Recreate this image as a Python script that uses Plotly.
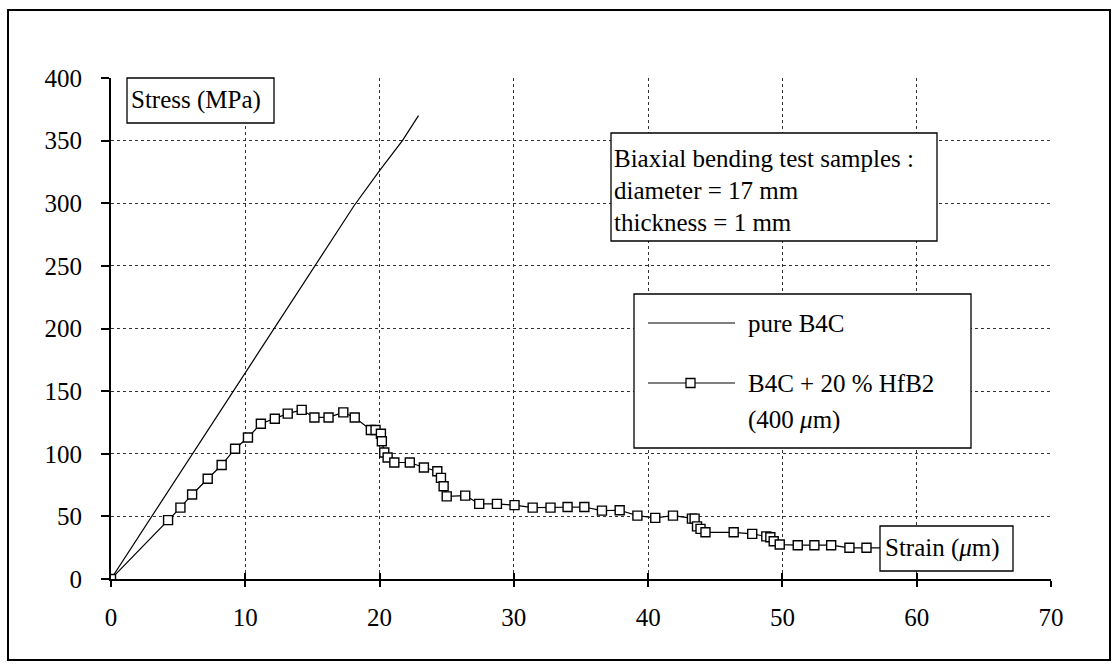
import plotly.graph_objects as go

# ---- data ----
pure_x = [0, 9.1, 18.1, 20.0, 21.7, 22.9]
pure_y = [0, 150, 298, 326, 350, 370]

comp_x = [0, 4.25, 5.17, 6.04, 7.2, 8.24, 9.24, 10.2, 11.16, 12.2, 13.16, 14.2, 15.15, 16.2,
          17.3, 18.15, 19.35, 19.7, 20.1, 20.17, 20.35, 20.6, 21.1, 22.25, 23.3, 24.3, 24.57,
          24.77, 25.0, 26.38, 27.42, 28.74, 30.05, 31.4, 32.73, 34.0, 35.25, 36.56, 37.88,
          39.2, 40.53, 41.85, 43.26, 43.46, 43.64, 43.9, 44.27, 46.37, 47.75, 48.8, 49.1,
          49.35, 49.8, 51.14, 52.38, 53.63, 54.99, 56.26, 57.5]
comp_y = [0, 47, 57, 67.5, 80, 91, 104, 113, 124, 128, 132, 135, 129, 129,
          133, 129, 119, 119, 116, 110, 101, 97, 93, 93, 89, 86, 80.7,
          74, 66, 66.6, 60, 60, 59, 57, 57, 57.5, 57.5, 54.6, 54.9,
          50.6, 48.8, 50.6, 48.2, 48.2, 42, 40, 37.3, 37.3, 36, 34, 33.3,
          30.1, 27.5, 27, 27, 27, 24.9, 24.9, 24.9]
comp_marker = [True] * (len(comp_x) - 1) + [False]

x_ticks = [0, 10, 20, 30, 40, 50, 60, 70]
y_ticks = [0, 50, 100, 150, 200, 250, 300, 350, 400]

FONT = "'Times New Roman', 'Liberation Serif', serif"
FS = 25
W, H = 1118, 664
L, R, T, B = 111, 67, 78, 85
PW, PH = W - L - R, H - T - B


def px(x):
    return (x - L) / PW


def py(y):
    return (H - B - y) / PH


fig = go.Figure()
fig.add_trace(go.Scatter(x=pure_x, y=pure_y, mode="lines",
                         line=dict(color="black", width=1.2), showlegend=False))
fig.add_trace(go.Scatter(x=comp_x, y=comp_y, mode="lines",
                         line=dict(color="black", width=1.2), showlegend=False))
mx = [x for x, m in zip(comp_x, comp_marker) if m]
my = [y for y, m in zip(comp_y, comp_marker) if m]
fig.add_trace(go.Scatter(x=mx, y=my, mode="markers",
                         marker=dict(symbol="square", size=9, color="white",
                                     line=dict(color="black", width=1.4)),
                         showlegend=False))
# invisible trace for overlay axis with inside ticks
fig.add_trace(go.Scatter(x=[0, 70], y=[0, 0], xaxis="x2", mode="lines",
                         line=dict(width=0), hoverinfo="skip", showlegend=False))

grid = dict(showgrid=True, gridcolor="#333", gridwidth=1, griddash="dot")
fig.update_layout(
    width=W, height=H,
    margin=dict(l=L, r=R, t=T, b=B),
    paper_bgcolor="white", plot_bgcolor="white",
    font=dict(family=FONT, size=FS, color="black"),
    xaxis=dict(range=[0, 70], tickvals=x_ticks, ticks="outside", ticklen=6,
               tickwidth=1.5, tickcolor="black", showline=True, linecolor="black",
               linewidth=2, zeroline=False, ticklabelstandoff=9,
               tickfont=dict(family=FONT, size=FS), **grid),
    xaxis2=dict(range=[0, 70], tickvals=x_ticks, ticks="inside", ticklen=6,
                tickwidth=1.5, tickcolor="black", overlaying="x", side="bottom",
                showticklabels=False, showgrid=False, showline=False, zeroline=False),
    yaxis=dict(range=[0, 400], tickvals=y_ticks, ticks="outside", ticklen=8,
               tickwidth=1.5, tickcolor="black", showline=True, linecolor="black",
               linewidth=2, zeroline=False, ticklabelstandoff=14,
               tickfont=dict(family=FONT, size=FS), **grid),
)

shapes = []
annots = []


def box(x0, y0, x1, y1):
    shapes.append(dict(type="rect", xref="paper", yref="paper",
                       x0=px(x0), x1=px(x1), y0=py(y1), y1=py(y0),
                       fillcolor="white", line=dict(color="black", width=1.3),
                       layer="above"))


def text(s, x, y):
    annots.append(dict(text=s, xref="paper", yref="paper", x=px(x), y=py(y),
                       xanchor="left", yanchor="middle", showarrow=False,
                       font=dict(family=FONT, size=FS, color="black")))


# outer frame
shapes.append(dict(type="rect", xref="paper", yref="paper",
                   x0=px(8), x1=px(1110), y0=py(660), y1=py(10),
                   line=dict(color="black", width=2), fillcolor="rgba(0,0,0,0)",
                   layer="above"))

box(127, 78, 274, 123)
text("Stress (MPa)", 129, 100)

box(611, 133, 937, 241)
text("Biaxial bending test samples :", 612, 158)
text("diameter = 17 mm", 612, 190)
text("thickness = 1 mm", 612, 222)

box(634, 294, 971, 448)
shapes.append(dict(type="line", xref="paper", yref="paper", x0=px(648), x1=px(735),
                   y0=py(323), y1=py(323), line=dict(color="black", width=1.2),
                   layer="above"))
text("pure B4C", 746, 323)
shapes.append(dict(type="line", xref="paper", yref="paper", x0=px(648), x1=px(735),
                   y0=py(383), y1=py(383), line=dict(color="black", width=1.2),
                   layer="above"))
shapes.append(dict(type="rect", xref="paper", yref="paper", x0=px(686), x1=px(695),
                   y0=py(387.5), y1=py(378.5), fillcolor="white",
                   line=dict(color="black", width=1.3), layer="above"))
text("B4C + 20 % HfB2", 746, 383)
text("(400 <i>μ</i>m)", 746, 420)

box(880, 526, 1013, 571)
text("Strain (<i>μ</i>m)", 883, 548)

fig.update_layout(shapes=shapes, annotations=annots)
fig.write_html("out.html")
